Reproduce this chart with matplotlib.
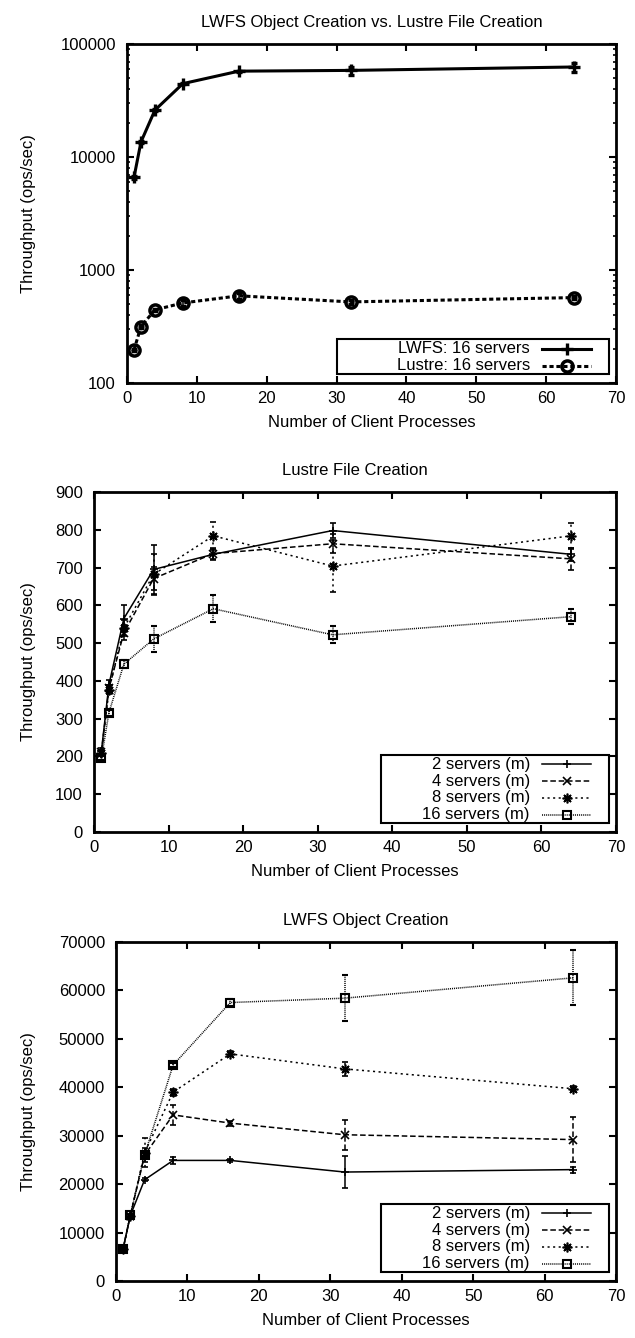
import numpy as np
import matplotlib
matplotlib.use("Agg")
import matplotlib.pyplot as plt
from matplotlib.lines import Line2D
from matplotlib.patches import Rectangle
from matplotlib.ticker import FixedLocator, LogLocator, NullFormatter, NullLocator

plt.rcParams['font.family'] = ['Liberation Sans', 'DejaVu Sans']
plt.rcParams['font.size'] = 12
plt.rcParams['lines.scale_dashes'] = False

procs = [1, 2, 4, 8, 16, 32, 64]

# Lustre file creation (ops/sec)
lustre_2 = [215, 390, 565, 695, 735, 798, 735]
lustre_2_err = [8, 12, 35, 65, 15, 20, 18]
lustre_4 = [212, 380, 527, 671, 737, 763, 723]
lustre_4_err = [6, 10, 20, 30, 15, 25, 30]
lustre_8 = [210, 375, 540, 682, 784, 704, 784]
lustre_8_err = [6, 10, 20, 55, 37, 70, 35]
lustre_16 = [196, 316, 444, 511, 591, 522, 570]
lustre_16_err = [5, 8, 10, 35, 36, 23, 20]

# LWFS object creation (ops/sec)
lwfs_2 = [6700, 13500, 20900, 24900, 24900, 22500, 23000]
lwfs_2_err = [200, 300, 300, 700, 300, 3300, 600]
lwfs_4 = [6700, 13500, 26000, 34300, 32600, 30200, 29200]
lwfs_4_err = [200, 300, 1500, 2000, 500, 3100, 4700]
lwfs_8 = [6700, 13500, 26500, 39000, 46900, 43800, 39700]
lwfs_8_err = [200, 300, 3000, 700, 500, 1500, 500]
lwfs_16 = [6600, 13600, 26000, 44600, 57500, 58400, 62600]
lwfs_16_err = [200, 300, 600, 500, 700, 4800, 5700]

W, H = 635, 1338
fig = plt.figure(figsize=(W / 100, H / 100), dpi=100)

def fx(x):
    return x / W

def fy(y):
    return 1 - y / H

def axes_px(left, top, right, bottom):
    ax = fig.add_axes([fx(left), fy(bottom), (right - left) / W, (bottom - top) / H])
    ax.px = (left, top, right, bottom)
    return ax

def style_axes(ax, title):
    left, top, right, bottom = ax.px
    for s in ax.spines.values():
        s.set_linewidth(2.0)
    ax.tick_params(direction='in', top=True, right=True, length=5, width=1.5)
    ax.tick_params(axis='x', pad=6)
    ax.tick_params(axis='y', pad=8)
    ax.tick_params(which='minor', direction='in', top=True, right=True, length=2.5, width=1.2)
    ax.set_xlim(0, 70)
    ax.set_xticks(np.arange(0, 71, 10))
    ax.xaxis.set_minor_locator(NullLocator())
    ax.set_xlabel('Number of Client Processes', labelpad=6)
    ax.set_ylabel('Throughput (ops/sec)')
    ax.yaxis.set_label_coords((36 - left) / (right - left), 0.5)
    ax.set_title(title, fontsize=12, pad=12.5)

def series(ax, y, err, marker, dashes, lw=1.1, ms=6, mew=1.2):
    eb = ax.errorbar(procs, y, yerr=err, color='black', lw=lw, marker=marker, ms=ms,
                     mew=mew, mfc='none', capsize=2.3, capthick=1.1, elinewidth=1.1)
    if dashes is not None:
        eb[0].set_dashes(dashes)
        for c in eb[2]:
            c.set_linestyle((0, dashes))
    return eb

def legend_px(ax, box_width, entries):
    # gnuplot style key: labels right aligned, sample line with point on the right
    left, top, right, bottom = ax.px
    n = len(entries)
    b_right = right - 7
    b_bottom = bottom - 9
    b_top = b_bottom - (n * 16.8 + 1)
    b_left = right - box_width
    fig.add_artist(Rectangle((fx(b_left), fy(b_bottom)), (b_right - b_left) / W, (b_bottom - b_top) / H,
                             transform=fig.transFigure, fill=True, facecolor='white',
                             edgecolor='black', lw=1.5, zorder=5))
    for i, (label, marker, dashes, lw, ms, mew) in enumerate(entries):
        yc = b_top + 9.5 + i * 16.8
        fig.text(fx(right - 86), fy(yc), label, ha='right', va='center', fontsize=12, zorder=6)
        x0, x1 = right - 74, right - 25
        ln = Line2D([fx(x0), fx((x0 + x1) / 2), fx(x1)], [fy(yc)] * 3, transform=fig.transFigure,
                    color='black', lw=lw, marker=marker, ms=ms, mew=mew, mfc='none',
                    markevery=[1], zorder=6)
        if dashes is not None:
            ln.set_dashes(dashes)
        fig.add_artist(ln)

# Panel 1: log comparison
ax1 = axes_px(127, 44, 616, 383)
series(ax1, lwfs_16, lwfs_16_err, '+', None, lw=2.2, ms=8, mew=2.4)
series(ax1, lustre_16, lustre_16_err, 'o', (3, 2), lw=2.2, ms=8, mew=2.5)
ax1.set_yscale('log')
ax1.set_ylim(100, 100000)
ax1.yaxis.set_major_locator(FixedLocator([100, 1000, 10000, 100000]))
ax1.set_yticklabels(['100', '1000', '10000', '100000'])
ax1.yaxis.set_minor_locator(LogLocator(base=10, subs=np.arange(2, 10)))
ax1.yaxis.set_minor_formatter(NullFormatter())
style_axes(ax1, 'LWFS Object Creation vs. Lustre File Creation')
legend_px(ax1, 279, [('LWFS: 16 servers', '+', None, 2.2, 8, 2.4),
                     ('Lustre: 16 servers', 'o', (3, 2), 2.2, 8, 2.5)])

panel_entries = [('2 servers (m)', '+', None, 1.1, 6, 1.2),
                 ('4 servers (m)', 'x', (4, 2), 1.1, 6, 1.2),
                 ('8 servers (m)', (8, 2, 0), (1.5, 2.5), 1.1, 7, 1.2),
                 ('16 servers (m)', 's', (0.7, 0.7), 1.1, 6, 1.5)]

# Panel 2: Lustre file creation
ax2 = axes_px(94, 492, 616, 832)
series(ax2, lustre_2, lustre_2_err, '+', None)
series(ax2, lustre_4, lustre_4_err, 'x', (4, 2))
series(ax2, lustre_8, lustre_8_err, (8, 2, 0), (1.5, 2.5), ms=7)
series(ax2, lustre_16, lustre_16_err, 's', (0.7, 0.7), ms=6, mew=1.5)
ax2.set_ylim(0, 900)
ax2.set_yticks(np.arange(0, 901, 100))
style_axes(ax2, 'Lustre File Creation')
legend_px(ax2, 235, panel_entries)

# Panel 3: LWFS object creation
ax3 = axes_px(116, 942, 616, 1281)
series(ax3, lwfs_2, lwfs_2_err, '+', None)
series(ax3, lwfs_4, lwfs_4_err, 'x', (4, 2))
series(ax3, lwfs_8, lwfs_8_err, (8, 2, 0), (1.5, 2.5), ms=7)
series(ax3, lwfs_16, lwfs_16_err, 's', (0.7, 0.7), ms=6, mew=1.5)
ax3.set_ylim(0, 70000)
ax3.set_yticks(np.arange(0, 70001, 10000))
style_axes(ax3, 'LWFS Object Creation')
legend_px(ax3, 235, panel_entries)

fig.savefig('out.png', dpi=100)
